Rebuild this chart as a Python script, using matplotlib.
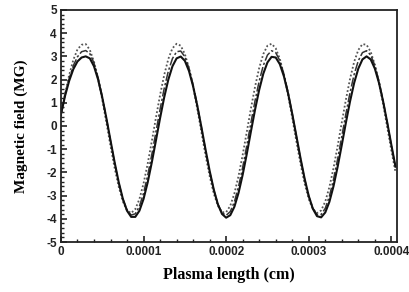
import matplotlib
matplotlib.use("Agg")
import matplotlib.pyplot as plt
from matplotlib.ticker import MultipleLocator, FixedLocator

plt.rcParams["axes.unicode_minus"] = False

# x positions (cm), read every 5e-6 cm
x_um = list(range(0, 410, 5))
x_cm = [v * 1e-6 for v in x_um]

solid = [0.5, 1.3, 1.95, 2.45, 2.78, 2.95, 3.0, 2.913, 2.573, 2.0, 1.235, 0.338,
         -0.621, -1.566, -2.431, -3.144, -3.651, -3.915, -3.915, -3.651, -3.144,
         -2.431, -1.566, -0.621, 0.338, 1.235, 2.0, 2.573, 2.913, 2.993, 2.809,
         2.371, 1.711, 0.887, -0.041, -1.007, -1.928, -2.737, -3.377, -3.790,
         -3.950, -3.842, -3.477, -2.880, -2.101, -1.198, -0.232, 0.706, 1.558,
         2.256, 2.739, 2.979, 2.951, 2.663, 2.131, 1.402, 0.522, -0.426, -1.382,
         -2.268, -3.015, -3.568, -3.884, -3.936, -3.724, -3.265, -2.588, -1.750,
         -0.816, 0.151, 1.064, 1.860, 2.475, 2.868, 3.0, 2.868, 2.475, 1.860,
         1.064, 0.151, -0.816, -1.750]

dashdot = [0.5, 1.35, 2.05, 2.6, 2.98, 3.2, 3.25, 3.115, 2.714, 2.086, 1.273, 0.339,
           -0.648, -1.603, -2.458, -3.151, -3.619, -3.836, -3.783, -3.46, -2.895,
           -2.132, -1.227, -0.25, 0.719, 1.617, 2.363, 2.906, 3.2, 3.229, 2.984,
           2.49, 1.777, 0.907, -0.052, -1.038, -1.961, -2.757, -3.367, -3.74,
           -3.85, -3.687, -3.264, -2.611, -1.784, -0.843, 0.144, 1.092, 1.933,
           2.607, 3.055, 3.243, 3.161, 2.813, 2.228, 1.447, 0.531, -0.449, -1.415,
           -2.299, -3.026, -3.545, -3.815, -3.815, -3.545, -3.026, -2.299, -1.415,
           -0.449, 0.531, 1.447, 2.228, 2.813, 3.161, 3.243, 3.055, 2.607, 1.933,
           1.092, 0.144, -0.843, -1.784]

dotted = [0.4, 1.4, 2.2, 2.85, 3.3, 3.5, 3.53, 3.276, 2.769, 2.035, 1.141, 0.156,
          -0.859, -1.808, -2.626, -3.254, -3.637, -3.75, -3.582, -3.148, -2.476,
          -1.626, -0.658, 0.356, 1.331, 2.196, 2.889, 3.349, 3.543, 3.459, 3.101,
          2.499, 1.696, 0.754, -0.253, -1.246, -2.155, -2.903, -3.436, -3.714,
          -3.714, -3.436, -2.903, -2.155, -1.246, -0.253, 0.754, 1.696, 2.499,
          3.101, 3.459, 3.543, 3.349, 2.889, 2.196, 1.331, 0.356, -0.658, -1.626,
          -2.476, -3.148, -3.582, -3.75, -3.637, -3.254, -2.626, -1.808, -0.859,
          0.156, 1.141, 2.035, 2.769, 3.276, 3.528, 3.499, 3.196, 2.638, 1.871,
          0.948, -0.049, -1.053, -1.983]

xticks = [0, 0.0001, 0.0002, 0.0003, 0.0004]
xticklabels = ["0", "0.0001", "0.0002", "0.0003", "0.0004"]
yticks = [-5, -4, -3, -2, -1, 0, 1, 2, 3, 4, 5]

fig = plt.figure(figsize=(4.09, 2.92), dpi=100)
ax = fig.add_axes([0.149, 0.171, 0.822, 0.795])

ax.plot(x_cm, dotted, color="#555555", lw=1.3, ls=(0, (1, 1.2)))
ax.plot(x_cm, dashdot, color="#333333", lw=1.1, ls=(0, (6, 1.5, 1.5, 1.5)))
ax.plot(x_cm, solid, color="#111111", lw=1.5, ls="-")

ax.set_xlim(0, 0.000407)
ax.set_ylim(-5, 5)
ax.xaxis.set_major_locator(FixedLocator(xticks))
ax.set_xticklabels(xticklabels)
ax.yaxis.set_major_locator(FixedLocator(yticks))
ax.xaxis.set_minor_locator(MultipleLocator(0.00002))
ax.yaxis.set_minor_locator(MultipleLocator(0.2))
ax.tick_params(axis="both", which="both", direction="in", top=False, right=False,
               color="#222222")
ax.tick_params(axis="both", which="major", length=4, width=1.2, labelsize=8.5, pad=3)
ax.tick_params(axis="both", which="minor", length=2.5, width=1.0)
for lab in ax.get_xticklabels() + ax.get_yticklabels():
    lab.set_fontfamily("Liberation Sans")
    lab.set_fontweight("bold")
    lab.set_color("#222222")
for s in ax.spines.values():
    s.set_linewidth(1.3)
    s.set_color("#222222")

ax.set_xlabel("Plasma length (cm)", fontfamily="Liberation Serif", fontweight="bold",
              fontsize=11.5, labelpad=6)
ax.set_ylabel("Magnetic field (MG)", fontfamily="Liberation Serif", fontweight="bold",
              fontsize=11, labelpad=13)

fig.savefig("out.png", dpi=100)
